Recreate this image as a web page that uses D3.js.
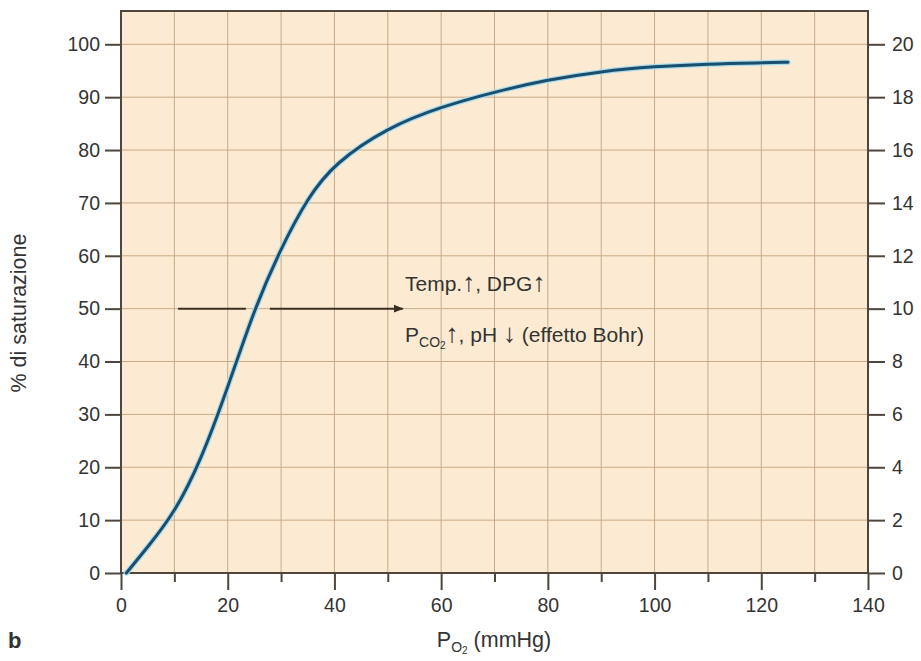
<!DOCTYPE html>
<html>
<head>
<meta charset="utf-8">
<script src="https://cdn.jsdelivr.net/npm/d3@7"></script>
<style>
  body { margin: 0; background: #fff; }
  svg text { font-family: "Liberation Sans", Arial, sans-serif; fill: #333; }
</style>
</head>
<body>
<div id="container"></div>
<script>
// curve: P_O2 (mmHg) -> % saturation
const po2 = [1, 5, 10, 15, 20, 25, 30, 35, 40, 50, 60, 70, 80, 90, 100, 110, 120, 125];
const saturation = [0, 4.9, 11.3, 21.3, 35, 50, 61.5, 71, 77.5, 84.3, 88.2, 91, 93.3, 94.9, 95.8, 96.3, 96.5, 96.6];

const xTicks = [0, 20, 40, 60, 80, 100, 120, 140];
const xMinorTicks = [10, 30, 50, 70, 90, 110, 130];
const yTicks = [0, 10, 20, 30, 40, 50, 60, 70, 80, 90, 100];
const yRightTicks = [0, 2, 4, 6, 8, 10, 12, 14, 16, 18, 20];

// arrow at 50 % (two pieces, broken around the curve)
const arrowY = 50;
const arrowParts = [[10.7, 23.4], [27.9, 52.8]];

const WIDTH = 921;
const HEIGHT = 661;
const mLeft = 121, mRight = 868, mTop = 11, mBottom = 573;

let x = d3.scaleLinear().domain([0, 140]).range([mLeft, mRight]);
let y = d3.scaleLinear().domain([0, 106.3]).range([mBottom, mTop]);
let yRight = d3.scaleLinear().domain([0, 21.26]).range([mBottom, mTop]);

let svg = d3.select('#container').append('svg').attr('width', WIDTH).attr('height', HEIGHT);

svg.append('defs').append('marker')
  .attr('id', 'head')
  .attr('viewBox', '0 0 10 10')
  .attr('refX', 9).attr('refY', 5)
  .attr('markerWidth', 5).attr('markerHeight', 5)
  .attr('markerUnits', 'strokeWidth')
  .attr('orient', 'auto')
  .append('path').attr('d', 'M0,1 L10,5 L0,9 z').attr('fill', '#3b2e22');

// background
svg.append('rect')
  .attr('x', mLeft).attr('y', mTop)
  .attr('width', mRight - mLeft).attr('height', mBottom - mTop)
  .attr('fill', '#fcebd2');

// grid
let grid = svg.append('g').attr('stroke', '#c9aa88').attr('stroke-width', 1);
grid.selectAll('.vx').data(d3.range(10, 140, 10)).join('line')
  .attr('x1', (d) => x(d)).attr('x2', (d) => x(d))
  .attr('y1', mTop).attr('y2', mBottom);
grid.selectAll('.hy').data(d3.range(10, 101, 10)).join('line')
  .attr('x1', mLeft).attr('x2', mRight)
  .attr('y1', (d) => y(d)).attr('y2', (d) => y(d));

// axes
const axisColor = '#4f463c';
function styleAxis(g) {
  g.select('.domain').remove();
  g.selectAll('.tick line').attr('stroke', axisColor).attr('stroke-width', 2);
  g.selectAll('.tick text').attr('fill', '#333').attr('font-size', 19.5)
    .attr('font-family', '"Liberation Sans", Arial, sans-serif');
}

svg.append('g').attr('transform', `translate(${mLeft},0)`)
  .call(d3.axisLeft(y).tickValues(yTicks).tickSize(16).tickPadding(5))
  .call(styleAxis);

svg.append('g').attr('transform', `translate(${mRight},0)`)
  .call(d3.axisRight(yRight).tickValues(yRightTicks).tickSize(17).tickPadding(7))
  .call(styleAxis);

svg.append('g').attr('transform', `translate(0,${mBottom})`)
  .call(d3.axisBottom(x).tickValues(xTicks).tickSize(17).tickPadding(8))
  .call(styleAxis);

svg.append('g').attr('transform', `translate(0,${mBottom})`)
  .call(d3.axisBottom(x).tickValues(xMinorTicks).tickSize(9).tickFormat(''))
  .call(styleAxis);

// frame
svg.append('rect')
  .attr('x', mLeft).attr('y', mTop)
  .attr('width', mRight - mLeft).attr('height', mBottom - mTop)
  .attr('fill', 'none').attr('stroke', axisColor).attr('stroke-width', 2);

// annotation arrow
svg.append('g').selectAll('line').data(arrowParts).join('line')
  .attr('x1', (d) => x(d[0])).attr('x2', (d) => x(d[1]))
  .attr('y1', y(arrowY)).attr('y2', y(arrowY))
  .attr('stroke', '#3b2e22').attr('stroke-width', 2)
  .attr('marker-end', (d, i) => (i === 1 ? 'url(#head)' : null));

// curve
let line = d3.line().x((d) => x(d[0])).y((d) => y(d[1])).curve(d3.curveBasis);
let pts = d3.zip(po2, saturation);
svg.append('path').attr('d', line(pts)).attr('fill', 'none')
  .attr('stroke', '#a9dbec').attr('stroke-width', 5.5).attr('stroke-linecap', 'round');
svg.append('path').attr('d', line(pts)).attr('fill', 'none')
  .attr('stroke', '#1b4d6c').attr('stroke-width', 3).attr('stroke-linecap', 'round');

// annotation text
let note = svg.append('g').attr('font-size', 21);
let t1 = note.append('text').attr('x', 405).attr('y', 291);
t1.append('tspan').text('Temp.');
t1.append('tspan').attr('font-size', 26).text('\u2191');
t1.append('tspan').text(', DPG');
t1.append('tspan').attr('font-size', 26).text('\u2191');
let t2 = note.append('text').attr('x', 405).attr('y', 342);
t2.append('tspan').text('P');
t2.append('tspan').attr('font-size', 14).attr('dy', 5).text('CO');
t2.append('tspan').attr('font-size', 10).attr('dy', 2).text('2');
t2.append('tspan').attr('dy', -7).attr('font-size', 26).text('\u2191');
t2.append('tspan').text(', pH ');
t2.append('tspan').attr('font-size', 26).text('\u2193');
t2.append('tspan').text(' (effetto Bohr)');

// axis titles
svg.append('text')
  .attr('transform', 'translate(26,313) rotate(-90)')
  .attr('text-anchor', 'middle').attr('font-size', 21.5)
  .text('% di saturazione');

let xt = svg.append('text').attr('x', 494).attr('y', 647).attr('text-anchor', 'middle').attr('font-size', 21.5);
xt.append('tspan').text('P');
xt.append('tspan').attr('font-size', 14).attr('dy', 5).text('O');
xt.append('tspan').attr('font-size', 10).attr('dy', 2).text('2');
xt.append('tspan').attr('dy', -7).text(' (mmHg)');

svg.append('text').attr('x', 8).attr('y', 648)
  .attr('font-size', 22).attr('font-weight', 'bold').attr('fill', '#222')
  .text('b');
</script>
</body>
</html>
